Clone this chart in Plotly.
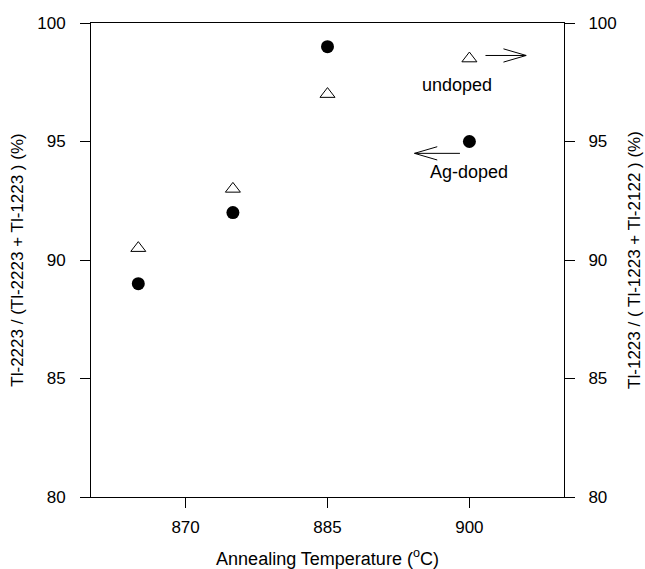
import plotly.graph_objects as go

# Data
temps_ag = [865, 875, 885, 900]
ratio_ag = [89.0, 92.0, 99.0, 95.0]          # Ag-doped, left axis
temps_un = [865, 875, 885, 900]
ratio_un = [90.5, 93.0, 97.0, 98.5]          # undoped, right axis

x_ticks = [870, 885, 900]
y_ticks = [80, 85, 90, 95, 100]

# Annotation arrows (data coordinates): tail x, tip x, y
undoped_arrow = [901.7, 906.0, 98.63]
ag_arrow = [899.0, 894.2, 94.5]
head_len = 2.4    # in x units
head_half = 0.28  # in y units

FONT = "Liberation Sans, Arial, sans-serif"

fig = go.Figure()
fig.add_trace(go.Scatter(
    x=temps_ag, y=ratio_ag, mode="markers", name="Ag-doped",
    marker=dict(symbol="circle", size=13, color="black"),
    yaxis="y"))
fig.add_trace(go.Scatter(
    x=temps_un, y=ratio_un, mode="markers", name="undoped",
    marker=dict(symbol="triangle-up-open", size=13, color="black",
                line=dict(width=1, color="black")),
    yaxis="y2"))

shapes = []
for tail, tip, yy in (undoped_arrow, ag_arrow):
    d = 1 if tip > tail else -1
    shapes.append(dict(type="line", xref="x", yref="y", x0=tail, x1=tip, y0=yy, y1=yy,
                       line=dict(color="black", width=1)))
    for s in (1, -1):
        shapes.append(dict(type="line", xref="x", yref="y", x0=tip - d * head_len, x1=tip,
                           y0=yy + s * head_half, y1=yy, line=dict(color="black", width=1)))

annotations = [
    dict(x=898.7, y=97.4, xref="x", yref="y", text="undoped", showarrow=False,
         font=dict(family=FONT, size=18, color="black")),
    dict(x=900.0, y=93.73, xref="x", yref="y", text="Ag-doped", showarrow=False,
         font=dict(family=FONT, size=18, color="black")),
]

axis_common = dict(showline=True, linecolor="black", linewidth=1, ticks="outside",
                   ticklen=10, tickcolor="black", showgrid=False, zeroline=False,
                   automargin=False,
                   tickfont=dict(family=FONT, size=17, color="black"))

fig.update_layout(
    width=645, height=569,
    margin=dict(l=91, r=81, t=23, b=72),
    paper_bgcolor="white", plot_bgcolor="white",
    showlegend=False,
    shapes=shapes, annotations=annotations,
    xaxis=dict(range=[860, 910], tickvals=x_ticks, mirror=True, ticklabelstandoff=5,
               title=dict(text="Annealing Temperature (<sup>o</sup>C)",
                          font=dict(family=FONT, size=18, color="black"), standoff=19),
               **axis_common),
    yaxis=dict(range=[80, 100], tickvals=y_ticks, ticklabelstandoff=11,
               title=dict(text="Tl-2223 / (Tl-2223 + Tl-1223 ) (%)",
                          font=dict(family=FONT, size=17, color="black"), standoff=9),
               **axis_common),
    yaxis2=dict(range=[80, 100], tickvals=y_ticks, overlaying="y", side="right",
                ticklabelstandoff=10,
                title=dict(text="Tl-1223 / ( Tl-1223 + Tl-2122 ) (%)",
                           font=dict(family=FONT, size=17, color="black"), standoff=12),
                **axis_common),
)

fig.write_html("out.html")
